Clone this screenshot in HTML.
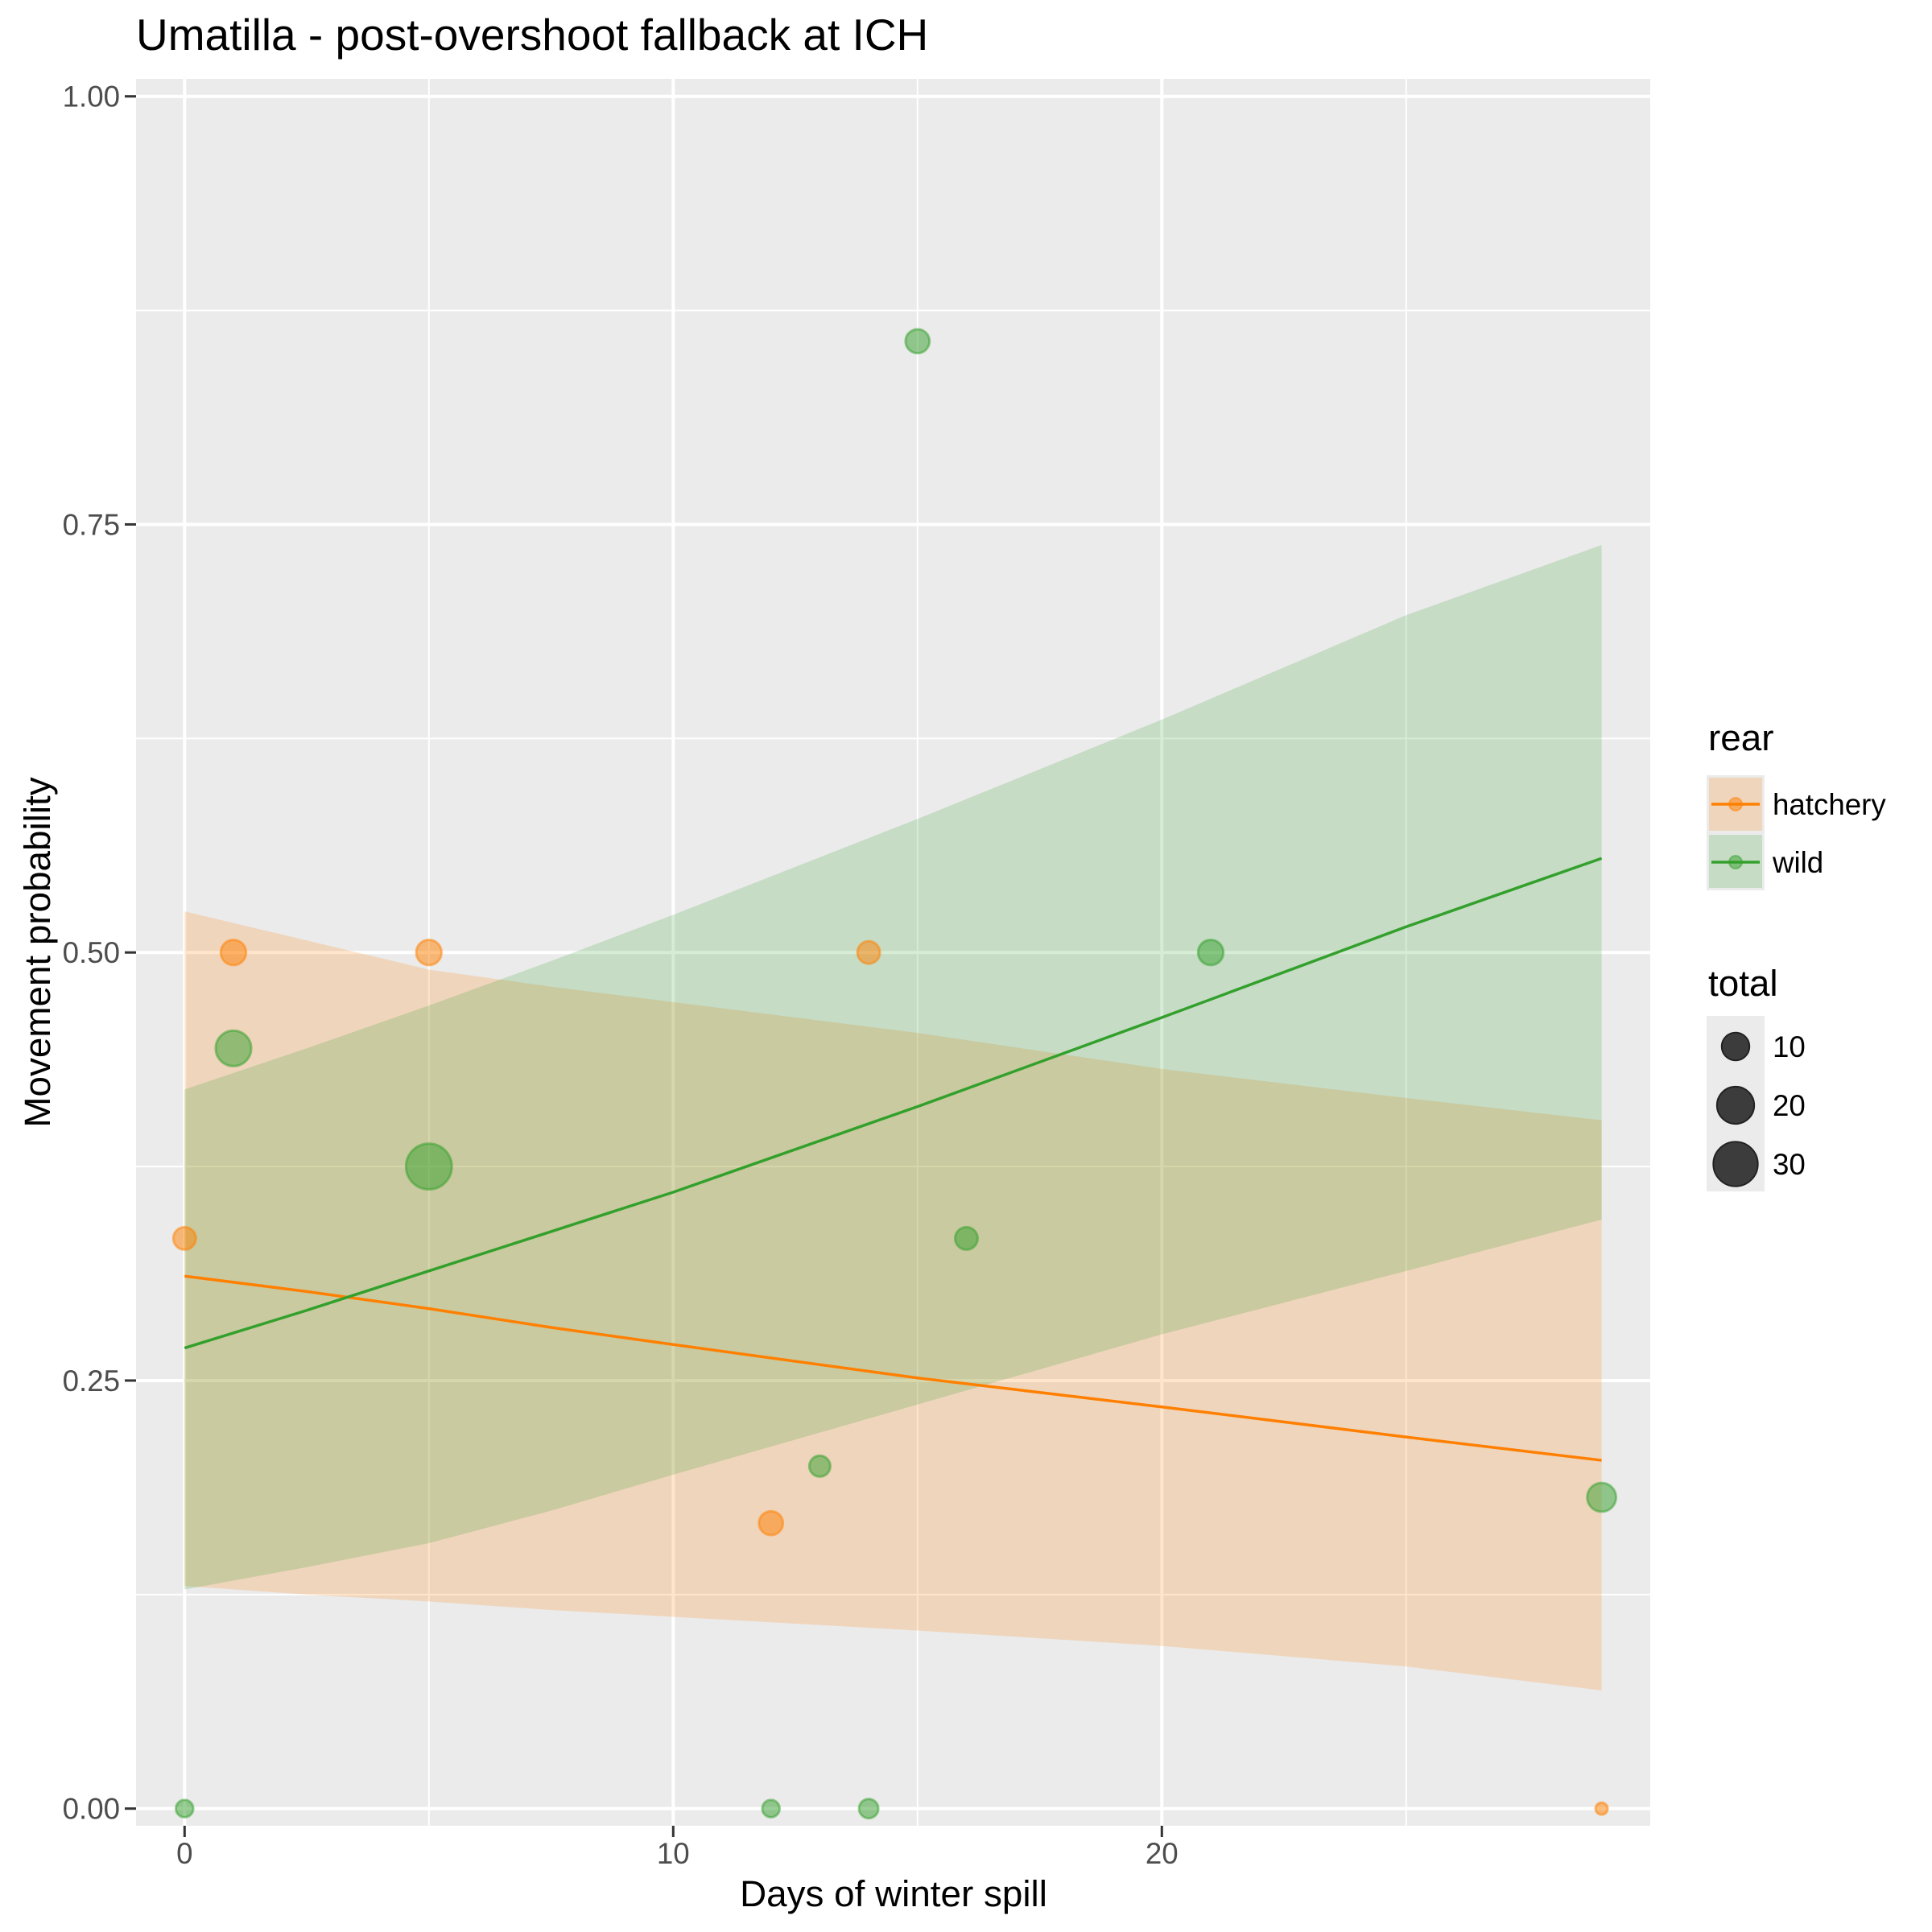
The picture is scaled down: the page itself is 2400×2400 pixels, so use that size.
<!DOCTYPE html>
<html><head><meta charset="utf-8"><style>
html,body{margin:0;padding:0;background:#fff;}
svg{display:block;font-family:"Liberation Sans",Arial,sans-serif;}
</style></head><body>
<svg id="chart" width="2400" height="2400" viewBox="0 0 2400 2400" xmlns="http://www.w3.org/2000/svg">
<rect x="0" y="0" width="2400" height="2400" fill="#fff"/>
<rect x="169" y="98" width="1881" height="2170" fill="#EBEBEB"/>
<g id="grid"></g>
<g id="ribbons"></g>
<g id="lines"></g>
<g id="points"></g>
<g id="axes"></g>
<text x="169" y="62" font-size="55" fill="#000">Umatilla - post-overshoot fallback at ICH</text>
<text x="1110" y="2368" font-size="45.8" text-anchor="middle" fill="#000">Days of winter spill</text>
<text transform="translate(62,1183) rotate(-90)" font-size="45.8" text-anchor="middle" fill="#000">Movement probability</text>
<g>
<text x="2122" y="932" font-size="45.8" fill="#000">rear</text>
<rect x="2120" y="963" width="72" height="143" fill="#EBEBEB"/>
<g>
<rect x="2123" y="966" width="66" height="66" fill="#FF7F00" fill-opacity="0.2"/>
<line x1="2126" y1="999" x2="2186" y2="999" stroke="#FF7F00" stroke-width="3.5"/>
<circle cx="2156" cy="999" r="8" fill="#FF7F00" fill-opacity="0.5" stroke="#FF7F00" stroke-opacity="0.5" stroke-width="2"/>
<text x="2202" y="1012" font-size="36.7" fill="#000">hatchery</text>
</g>
<g>
<rect x="2123" y="1037" width="66" height="66" fill="#33A02C" fill-opacity="0.2"/>
<line x1="2126" y1="1071" x2="2186" y2="1071" stroke="#33A02C" stroke-width="3.5"/>
<circle cx="2156" cy="1071" r="8" fill="#33A02C" fill-opacity="0.5" stroke="#33A02C" stroke-opacity="0.5" stroke-width="2"/>
<text x="2202" y="1084" font-size="36.7" fill="#000">wild</text>
</g>
</g>
<g>
<text x="2122" y="1237" font-size="45.8" fill="#000">total</text>
<rect x="2120" y="1262" width="72" height="218" fill="#EBEBEB"/>
<g id="sizeLegend"></g>
</g>
</svg>
<script>
// ---- data ----
const hatchX = [0, 1, 5, 12, 14, 29];
const hatchY = [0.333, 0.5, 0.5, 0.1667, 0.5, 0];
const hatchTotal = [6, 8, 8, 7, 6, 1];
const wildX = [0, 1, 5, 12, 13, 14, 15, 16, 21, 29];
const wildY = [0, 0.444, 0.375, 0, 0.2, 0, 0.857, 0.333, 0.5, 0.1818];
const wildTotal = [3, 18, 32, 3, 5, 4, 7, 6, 8, 11];
const fitX = [0, 2.5, 5, 7.5, 10, 15, 20, 25, 29];
const hatchFit = [0.311, 0.302, 0.292, 0.281, 0.271, 0.2515, 0.2346, 0.217, 0.2034];
const hatchLo = [0.130, 0.125, 0.121, 0.116, 0.112, 0.104, 0.095, 0.083, 0.069];
const hatchHi = [0.524, 0.507, 0.490, 0.480, 0.471, 0.453, 0.432, 0.415, 0.402];
const wildFit = [0.269, 0.291, 0.314, 0.337, 0.360, 0.410, 0.462, 0.515, 0.555];
const wildLo = [0.128, 0.141, 0.155, 0.174, 0.195, 0.236, 0.277, 0.314, 0.344];
const wildHi = [0.420, 0.444, 0.469, 0.495, 0.522, 0.578, 0.636, 0.697, 0.738];
const xTicks = [0, 10, 20];
const xMinor = [5, 15, 25];
const yTicks = [0, 0.25, 0.5, 0.75, 1];
const yTickLabels = ["0.00", "0.25", "0.50", "0.75", "1.00"];
const yMinor = [0.125, 0.375, 0.625, 0.875];
const sizeLegendVals = [10, 20, 30];

// ---- scales ----
const X = v => 229.3 + v * 60.7;
const Y = v => 2246.7 - v * 2127;
const R = t => 3 + 4.5 * Math.sqrt(t);
const NS = "http://www.w3.org/2000/svg";
function mk(tag, attrs, parent) {
  const e = document.createElementNS(NS, tag);
  for (const k in attrs) e.setAttribute(k, attrs[k]);
  parent.appendChild(e);
  return e;
}
const grid = document.getElementById('grid');
yMinor.forEach(v => {
  const l = mk('line', {x1: 169, x2: 2050, y1: Y(v), y2: Y(v), stroke: '#fff', 'stroke-width': 2}, grid);
  
  
});
xMinor.forEach(v => {
  const l = mk('line', {x1: X(v), x2: X(v), y1: 98, y2: 2268, stroke: '#fff', 'stroke-width': 2}, grid);
  
  
});
yTicks.forEach(v => {
  const l = mk('line', {x1: 169, x2: 2050, y1: Y(v), y2: Y(v), stroke: '#fff', 'stroke-width': 4}, grid);
  
  
});
xTicks.forEach(v => {
  const l = mk('line', {x1: X(v), x2: X(v), y1: 98, y2: 2268, stroke: '#fff', 'stroke-width': 4}, grid);
  
  
});

function ribbon(lo, hi, color, name) {
  let d = fitX.map((x, i) => (i ? 'L' : 'M') + X(x) + ',' + Y(hi[i])).join(' ');
  for (let i = fitX.length - 1; i >= 0; i--) d += ' L' + X(fitX[i]) + ',' + Y(lo[i]);
  const p = mk('path', {d: d + ' Z', fill: color, 'fill-opacity': 0.2}, document.getElementById('ribbons'));
  
  
}
ribbon(hatchLo, hatchHi, '#FF7F00', 'hatchery-ribbon');
ribbon(wildLo, wildHi, '#33A02C', 'wild-ribbon');

function line(vals, color, name) {
  const d = fitX.map((x, i) => (i ? 'L' : 'M') + X(x) + ',' + Y(vals[i])).join(' ');
  const p = mk('path', {d: d, fill: 'none', stroke: color, 'stroke-width': 3.5}, document.getElementById('lines'));
  
  
}
line(hatchFit, '#FF7F00', 'hatchery-fit-line');
line(wildFit, '#33A02C', 'wild-fit-line');

function pts(xs, ys, ts, color, name) {
  xs.forEach((x, i) => {
    const c = mk('circle', {cx: X(x), cy: Y(ys[i]), r: R(ts[i]), fill: color, 'fill-opacity': 0.5, stroke: color, 'stroke-opacity': 0.5, 'stroke-width': 3}, document.getElementById('points'));
    
    
  });
}
pts(hatchX, hatchY, hatchTotal, '#FF7F00', 'hatchery-point');
pts(wildX, wildY, wildTotal, '#33A02C', 'wild-point');

const axes = document.getElementById('axes');
yTicks.forEach((v, i) => {
  const t = mk('line', {x1: 155, x2: 169, y1: Y(v), y2: Y(v), stroke: '#333', 'stroke-width': 3}, axes);
  
  
  const tx = mk('text', {x: 149, y: Y(v) + 13, 'font-size': 36.7, 'text-anchor': 'end', fill: '#4D4D4D'}, axes);
  tx.textContent = yTickLabels[i];
  
  
});
xTicks.forEach(v => {
  const t = mk('line', {x1: X(v), x2: X(v), y1: 2268, y2: 2282, stroke: '#333', 'stroke-width': 3}, axes);
  
  
  const tx = mk('text', {x: X(v), y: 2315, 'font-size': 36.7, 'text-anchor': 'middle', fill: '#4D4D4D'}, axes);
  tx.textContent = String(v);
  
  
});

const sl = document.getElementById('sizeLegend');
sizeLegendVals.forEach((v, i) => {
  const cy = 1300 + i * 73;
  const c = mk('circle', {cx: 2156, cy: cy, r: R(v), fill: '#333', 'fill-opacity': 0.95, stroke: '#222', 'stroke-width': 2}, sl);
  
  
  const t = mk('text', {x: 2202, y: cy + 13, 'font-size': 36.7, fill: '#000'}, sl);
  t.textContent = String(v);
  
  
});
</script>
</body></html>
